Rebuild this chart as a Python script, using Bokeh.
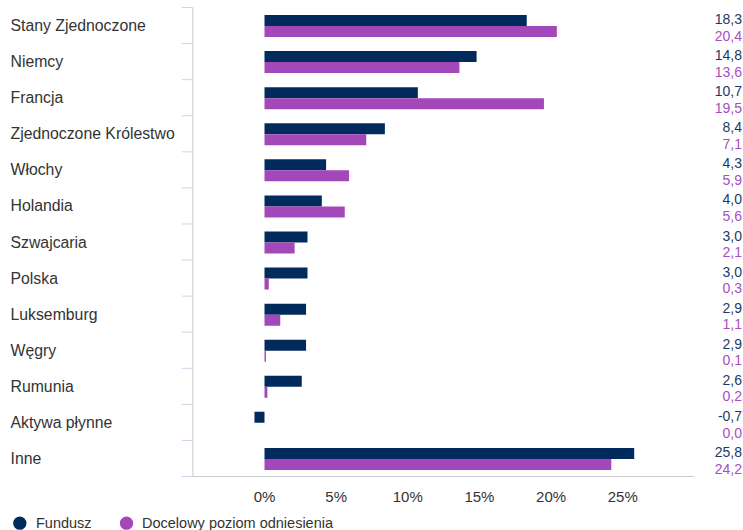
from bokeh.plotting import figure
from bokeh.layouts import column
from bokeh.models import Range1d, FixedTicker, PrintfTickFormatter, ColumnDataSource
from bokeh.core.properties import value
from bokeh.embed import file_html
from bokeh.resources import INLINE

categories = ["Stany Zjednoczone", "Niemcy", "Francja", "Zjednoczone Królestwo", "Włochy",
              "Holandia", "Szwajcaria", "Polska", "Luksemburg", "Węgry", "Rumunia",
              "Aktywa płynne", "Inne"]
fund = [18.3, 14.8, 10.7, 8.4, 4.3, 4.0, 3.0, 3.0, 2.9, 2.9, 2.6, -0.7, 25.8]
bench = [20.4, 13.6, 19.5, 7.1, 5.9, 5.6, 2.1, 0.3, 1.1, 0.1, 0.2, 0.0, 24.2]
x_ticks = [0, 5, 10, 15, 20, 25]
series_names = ["Fundusz", "Docelowy poziom odniesienia"]

NAVY = "#002b5c"
PURPLE = "#a448b9"
NAVY_TXT = "#1d3868"
PURPLE_TXT = "#a64fc0"
TXT = "#333333"
FONT = "Liberation Sans"

W = 743
H_MAIN, H_LEG = 508, 22
PX = 14.33            # pixels per percent
BAND = 36.08          # pixels per category
X0, X1 = -5.0, 30.0   # plot area extent (data units)
ZERO_PX = 264
x_min = -ZERO_PX / PX
x_max = x_min + W / PX
n = len(categories)
TOP_PX = 7
BOTTOM_BORDER = 31
frame_h = H_MAIN - BOTTOM_BORDER
y_top = -TOP_PX / BAND
y_bottom = y_top + frame_h / BAND

p = figure(width=W, height=H_MAIN, output_backend="svg", toolbar_location=None,
           x_range=Range1d(x_min, x_max), y_range=Range1d(y_bottom, y_top),
           y_axis_location=None, min_border_left=0, min_border_right=0,
           min_border_top=0, min_border_bottom=BOTTOM_BORDER, outline_line_color=None,
           background_fill_color="white", border_fill_color="white")
p.xgrid.visible = False
p.ygrid.visible = False

idx = list(range(n))
src = ColumnDataSource(dict(
    cat=categories, fund=fund, bench=bench,
    yc=[i + 0.5 for i in idx],
    yf=[i + 0.5 - 0.14 for i in idx],
    yb=[i + 0.5 + 0.165 for i in idx],
    yft=[i + 0.32 for i in idx],
    ybt=[i + 0.78 for i in idx],
    ftxt=[f"{v:.1f}".replace(".", ",") for v in fund],
    btxt=[f"{v:.1f}".replace(".", ",") for v in bench],
))

p.hbar(y="yf", left=0, right="fund", height=0.305, fill_color=NAVY, line_color=None, source=src)
p.hbar(y="yb", left=0, right="bench", height=0.305, fill_color=PURPLE, line_color=None, source=src)

# axis frame lines and category ticks
p.segment(x0=X0, x1=X0, y0=0, y1=n, line_color="#cccccc", line_width=1)
p.segment(x0=X0, x1=X1, y0=n, y1=n, line_color="#cccccc", line_width=1)
bounds = list(range(n + 1))
p.segment(x0=[X0 - 11 / PX] * len(bounds), x1=[X0] * len(bounds), y0=bounds, y1=bounds,
          line_color="#ccd6eb", line_width=1)

# category labels
p.text(x=x_min + 10 / PX, y="yc", text="cat", source=src, text_align="left",
       text_baseline="middle", text_font=value(FONT), text_font_size="15.8px", text_color=TXT)

# value labels
xv = x_min + 741.5 / PX
p.text(x=xv, y="yft", text="ftxt", source=src, text_align="right", text_baseline="middle",
       text_font=value(FONT), text_font_size="14px", text_color=NAVY_TXT)
p.text(x=xv, y="ybt", text="btxt", source=src, text_align="right", text_baseline="middle",
       text_font=value(FONT), text_font_size="14px", text_color=PURPLE_TXT)

# x axis
ax = p.xaxis[0]
ax.ticker = FixedTicker(ticks=x_ticks)
ax.formatter = PrintfTickFormatter(format="%d%%")
ax.axis_line_color = None
ax.major_tick_line_color = None
ax.minor_tick_line_color = None
ax.major_tick_out = 0
ax.major_tick_in = 0
ax.major_label_standoff = 10
ax.major_label_text_font = FONT
ax.major_label_text_font_size = "15px"
ax.major_label_text_color = TXT

# legend strip
leg = figure(width=W, height=H_LEG, output_backend="svg", toolbar_location=None,
             x_range=Range1d(0, W), y_range=Range1d(H_LEG, 0),
             x_axis_location=None, y_axis_location=None, min_border=0,
             outline_line_color=None, background_fill_color="white",
             border_fill_color="white")
leg.xgrid.visible = False
leg.ygrid.visible = False
leg_src = ColumnDataSource(dict(
    mx=[19.3, 126.0], tx=[35.5, 141.5], y=[14.7, 14.7],
    color=[NAVY, PURPLE], label=series_names))
leg.scatter(x="mx", y="y", marker="circle", size=13.3, fill_color="color", line_color=None,
            source=leg_src)
leg.text(x="tx", y="y", text="label", source=leg_src, text_align="left",
         text_baseline="middle", text_font=value(FONT), text_font_size="14.5px",
         text_color=TXT)

layout = column(p, leg, spacing=0)
open("out.html", "w").write(file_html(layout, INLINE))
